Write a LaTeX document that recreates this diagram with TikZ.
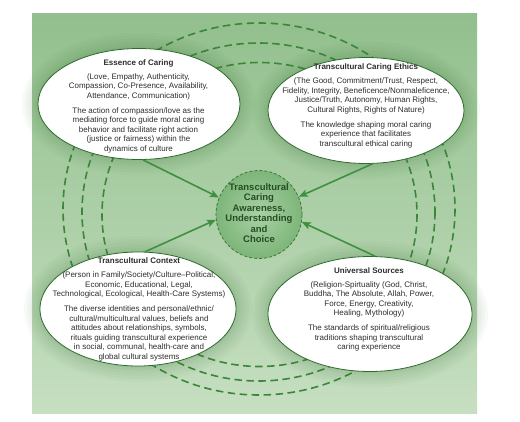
\documentclass[tikz,border=0pt]{standalone}
\usepackage{fontspec}
\setmainfont{Liberation Sans}
\usetikzlibrary{arrows.meta,shapes.geometric}
\definecolor{bgtop}{HTML}{92BF8D}
\definecolor{bgbot}{HTML}{C6DFC1}
\definecolor{ringgreen}{HTML}{3A873A}
\definecolor{rimgreen}{HTML}{2F6B2F}
\definecolor{glowgreen}{HTML}{3F7A3A}
\definecolor{arrowgreen}{HTML}{3E9140}
\definecolor{choicein}{HTML}{A9D2A4}
\definecolor{choiceout}{HTML}{7DB579}
\definecolor{ellrim}{HTML}{DDEBDA}
\definecolor{inktext}{HTML}{2E2E2E}
\pgfdeclareradialshading{ellshade}{\pgfpoint{0bp}{0bp}}{color(0bp)=(white); color(38bp)=(white); color(50bp)=(ellrim)}
\tikzset{
  sphere/.style={ellipse,draw=rimgreen,line width=.8pt,shade,shading=ellshade,inner sep=0pt,
    preaction={draw=glowgreen,line width=32pt,opacity=.035},
    preaction={draw=glowgreen,line width=26pt,opacity=.035},
    preaction={draw=glowgreen,line width=20pt,opacity=.04},
    preaction={draw=glowgreen,line width=14pt,opacity=.045},
    preaction={draw=glowgreen,line width=8pt,opacity=.05},
    preaction={draw=glowgreen,line width=3pt,opacity=.06}},
  choicebox/.style={ellipse,draw=glowgreen,line width=.8pt,dash pattern=on 3pt off 2pt,inner color=choicein,outer color=choiceout,inner sep=0pt},
  caption/.style={align=center,inner sep=0pt,text=inktext,font=\fontsize{8}{9.5}\selectfont},
  choicetext/.style={align=center,inner sep=0pt,text=inktext!85!green,font=\bfseries\fontsize{9.5}{10.5}\selectfont},
  ring/.style={draw=ringgreen,line width=1.6pt,dash pattern=on 7.5pt off 4.5pt},
  flow/.style={-{Stealth[length=9pt,width=7.5pt,inset=2pt]},line width=1.6pt,arrowgreen}
}

\begin{document}
\begin{tikzpicture}[x=1pt,y=-1pt]
  \useasboundingbox (0,0) rectangle (520,421);
  \fill[white] (0,0) rectangle (520,421);
  \shade[top color=bgtop,bottom color=bgbot] (32,13) rectangle (477,413);

  % dashed rings behind the four spheres
  \draw[ring] (259,209) ellipse [x radius=196, y radius=186];
  \draw[ring] (258.5,212) ellipse [x radius=176.5, y radius=169];
  \draw[ring] (259.5,214.5) ellipse [x radius=157.5, y radius=152];

  \node[sphere,minimum width=202pt,minimum height=111pt] (essence) at (139,104) {};
  \node[sphere,minimum width=196pt,minimum height=106pt] (ethics) at (366,110.5) {};
  \node[sphere,minimum width=196pt,minimum height=114pt] (context) at (138,309) {};
  \node[sphere,minimum width=204pt,minimum height=115pt] (sources) at (370,314) {};
  \node[choicebox,minimum width=86pt,minimum height=88pt] (choice) at (259,214.5) {};

  \node[caption] (essencetext) at (138.5,106) {\textbf{Essence of Caring}\\[4.5pt]
    (Love, Empathy, Authenticity,\\ Compassion, Co-Presence, Availability,\\ Attendance, Communication)\\[5.5pt]
    The action of compassion/love as the\\ mediating force to guide moral caring\\ behavior and facilitate right action\\ (justice or fairness) within the\\ dynamics of culture};
  \node[caption] (ethicstext) at (366,106) {\textbf{Transcultural Caring Ethics}\\[4.5pt]
    (The Good, Commitment/Trust, Respect,\\ Fidelity, Integrity, Beneficence/Nonmaleficence,\\ Justice/Truth, Autonomy, Human Rights,\\ Cultural Rights, Rights of Nature)\\[5.5pt]
    The knowledge shaping moral caring\\ experience that facilitates\\ transcultural ethical caring};
  \node[caption] (contexttext) at (139,309.5) {\textbf{Transcultural Context}\\[4.5pt]
    (Person in Family/Society/Culture--Political,\\ Economic, Educational, Legal,\\ Technological, Ecological, Health-Care Systems)\\[5.5pt]
    The diverse identities and personal/ethnic/\\ cultural/multicultural values, beliefs and\\ attitudes about relationships, symbols,\\ rituals guiding transcultural experience\\ in social, communal, health-care and\\ global cultural systems};
  \node[caption] (sourcestext) at (369,309.5) {\textbf{Universal Sources}\\[4.5pt]
    (Religion-Spirtuality (God, Christ,\\ Buddha, The Absolute, Allah, Power,\\ Force, Energy, Creativity,\\ Healing, Mythology)\\[5.5pt]
    The standards of spiritual/religious\\ traditions shaping transcultural\\ caring experience};
  \node[choicetext] (choicelabel) at (259,213) {Transcultural\\Caring\\Awareness,\\Understanding\\and\\Choice};

  \draw[flow] (essence.-86) -- (choice.157);
  \draw[flow] (ethics.-83) -- (choice.24);
  \draw[flow] (context.83) -- (choice.187);
  \draw[flow] (sources.85) -- (choice.-10);
\end{tikzpicture}
\end{document}
